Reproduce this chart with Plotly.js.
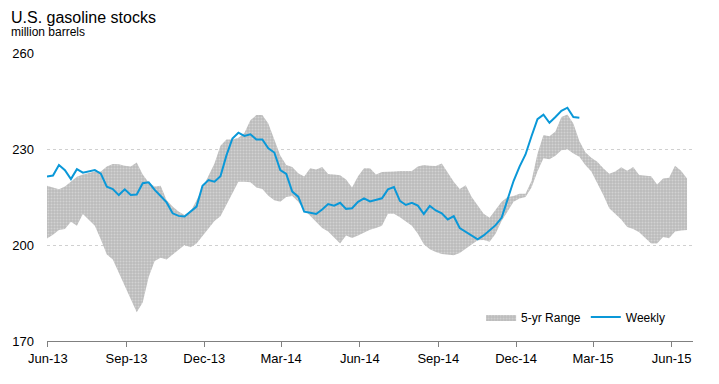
<!DOCTYPE html>
<html>
<head>
<meta charset="utf-8">
<script src="https://cdn.plot.ly/plotly-3.0.1.min.js"></script>
<style>html,body{margin:0;padding:0;background:#fff;}#chart{width:719px;height:384px;}</style>
</head>
<body>
<div id="chart"></div>
<script>
// Weekly observations (Fridays) starting here
const startDate = '2013-05-31';

// U.S. gasoline stocks, weekly, million barrels
const weekly = [221.4,221.7,225.0,223.4,220.6,223.7,222.6,223.1,223.4,222.3,
218.2,217.5,215.6,217.4,215.6,215.8,219.3,219.6,217.2,215.3,
213.3,209.9,209.1,208.9,210.4,212.0,218.5,220.3,219.8,221.5,
228.0,233.3,235.1,234.1,234.6,233.0,233.0,230.2,228.9,223.4,
222.2,216.7,215.1,210.4,210.1,209.7,211.1,212.8,212.3,213.2,
211.3,211.5,213.5,214.6,213.6,214.1,214.6,217.4,218.1,213.8,
212.5,213.2,212.3,209.7,212.2,210.8,209.9,208.0,209.0,205.3,
204.2,202.9,201.8,203.0,204.5,206.2,208.5,214.5,220.0,224.5,
228.3,234.0,239.3,240.7,238.2,240.0,241.9,242.9,240.0,239.8];

// 5-year range, upper bound
const rangeHigh = [218.5,218.0,217.4,218.3,219.8,221.3,222.0,222.5,223.0,223.0,
224.5,225.3,225.2,224.8,224.5,225.8,222.0,219.5,218.3,218.5,
214.0,212.0,210.5,209.4,210.5,214.0,218.0,222.0,225.5,231.0,
233.0,233.0,233.5,235.0,239.0,240.6,240.6,238.0,233.0,228.0,
225.0,224.4,222.4,221.4,224.0,223.6,224.4,222.2,222.0,221.8,
220.5,218.0,221.5,224.0,224.0,222.0,222.8,223.0,223.0,223.1,
223.1,223.1,224.5,225.0,224.8,224.7,225.5,222.5,219.8,217.5,
218.7,215.0,212.3,209.8,208.5,210.9,213.5,215.0,215.3,216.0,
216.0,220.0,228.5,234.4,234.0,235.5,240.0,240.8,238.0,232.5,
229.0,227.3,226.0,224.0,222.3,223.0,224.3,223.2,224.4,221.9,
221.7,221.5,218.9,220.8,221.0,224.8,223.2,220.8];

// 5-year range, lower bound
const rangeLow = [202.0,203.2,204.7,205.0,207.3,206.0,209.7,208.0,206.0,201.7,
197.0,195.5,191.5,187.5,183.4,179.0,182.0,190.0,195.0,196.0,
195.5,197.0,198.5,200.0,199.3,200.5,202.8,205.0,207.5,209.0,
212.5,216.0,219.8,219.8,219.6,218.0,217.5,215.4,214.0,213.5,
215.0,215.3,213.5,211.0,209.0,207.0,205.3,204.2,202.5,200.5,
203.0,202.2,203.0,204.0,204.8,205.3,206.0,209.8,209.8,208.7,
207.4,206.0,203.5,200.2,198.7,197.8,197.2,197.0,196.8,197.5,
198.8,200.1,201.5,201.6,201.0,203.5,207.5,210.5,213.5,214.5,
215.0,218.0,223.0,227.1,226.8,227.9,229.6,229.9,228.6,227.6,
225.0,223.0,219.5,215.6,211.5,209.8,208.0,205.6,205.0,204.0,
202.2,200.5,200.5,202.5,202.1,204.2,204.5,204.7];

const yTicks = [170, 200, 230, 260];
const xRange = ['2013-05-31', '2015-06-26'];

function weekDates(n) {
  const out = [];
  const d0 = new Date(startDate + 'T00:00:00Z');
  for (let i = 0; i < n; i++) {
    const d = new Date(d0.getTime() + i * 7 * 86400000);
    out.push(d.toISOString().slice(0, 10));
  }
  return out;
}

const bandX = weekDates(rangeHigh.length);
const lineX = weekDates(weekly.length);
const FONT = 'Liberation Sans, Arial, sans-serif';

const traces = [
  {x: bandX, y: rangeLow, type: 'scatter', mode: 'lines', line: {width: 0, color: 'rgba(0,0,0,0)'},
   showlegend: false, hoverinfo: 'skip'},
  {x: bandX, y: rangeHigh, type: 'scatter', mode: 'lines', name: '5-yr Range', fill: 'tonexty',
   fillcolor: '#bebebe', line: {width: 0, color: 'rgba(0,0,0,0)'},
   fillpattern: {shape: '.', bgcolor: '#bcbcbc', fgcolor: '#d2d2d2', size: 3, solidity: 0.35}},
  {x: lineX, y: weekly, type: 'scatter', mode: 'lines', name: 'Weekly',
   line: {color: '#0a98d8', width: 2}}
];

const layout = {
  width: 719, height: 384,
  margin: {l: 47, r: 26, t: 53, b: 43},
  paper_bgcolor: '#fff', plot_bgcolor: '#fff',
  font: {family: FONT, size: 13, color: '#000'},
  showlegend: true,
  legend: {orientation: 'h', traceorder: 'normal', x: 0.672, y: 0.083, xanchor: 'left', yanchor: 'middle',
           font: {family: FONT, size: 12, color: '#000'}, bgcolor: 'rgba(0,0,0,0)', itemwidth: 30},
  xaxis: {type: 'date', range: xRange, tickformat: '%b-%y', dtick: 'M3', tick0: '2013-06-01',
          ticks: 'outside', ticklen: 5, tickcolor: '#808080', tickwidth: 1,
          showline: true, linecolor: '#808080', linewidth: 1, showgrid: false, zeroline: false,
          tickfont: {family: FONT, size: 13, color: '#000'}, fixedrange: true},
  yaxis: {range: [170, 260], tickvals: yTicks, ticktext: yTicks.map(String),
          showgrid: true, gridcolor: '#d0d0d0', gridwidth: 1, griddash: 'dot',
          showline: false, zeroline: false, ticks: '', ticklabelstandoff: 12,
          tickfont: {family: FONT, size: 13, color: '#000'}, fixedrange: true},
  annotations: [
    {text: 'U.S. gasoline stocks', xref: 'paper', yref: 'paper', x: -0.0585, y: 1.125,
     xanchor: 'left', yanchor: 'middle', showarrow: false, font: {family: FONT, size: 16, color: '#000'}},
    {text: 'million barrels', xref: 'paper', yref: 'paper', x: -0.0585, y: 1.073,
     xanchor: 'left', yanchor: 'middle', showarrow: false, font: {family: FONT, size: 12, color: '#000'}}
  ]
};

Plotly.newPlot('chart', traces, layout, {displayModeBar: false, staticPlot: true});
</script>
</body>
</html>
